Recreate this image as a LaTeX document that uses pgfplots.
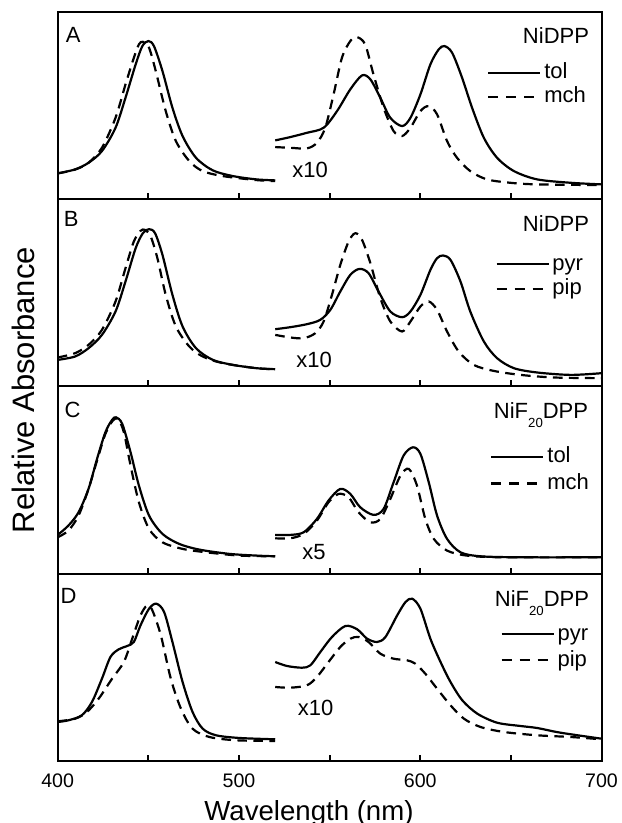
\documentclass[border=0pt]{standalone}
\usepackage{fontspec}
\setmainfont{Liberation Sans}
\usepackage{pgfplots}
\pgfplotsset{compat=1.18}
\newcommand\lbl{\fontsize{11}{13}\selectfont}
\newcommand\sub[1]{\raisebox{-4.7pt}{\fontsize{6.6}{7}\selectfont #1}}
\pgfplotsset{
 panel/.style={
  width=271.9pt, height=93.7pt, scale only axis, anchor=south west,
  xmin=400, xmax=700, ymin=0, ymax=187.4,
  xtick={400,450,...,700}, xticklabels={}, ytick=\empty,
  xtick pos=bottom, tick align=inside, major tick length=3pt,
  axis line style={line width=1pt},
  every tick/.style={line width=1pt, black},
  legend style={draw=none, fill=none, inner sep=0pt, outer sep=0pt,
    anchor=north west, font=\lbl, cells={anchor=base west},
    nodes={inner sep=0pt, text height=7.9pt, text depth=2pt},
    column sep=1.4pt},
  legend image code/.code={\path (0pt,0pt) (26pt,7.9pt);
    \draw[##1] (0pt,3pt) -- (26pt,3pt);},
 },
 sol/.style={black, line width=1.1pt, smooth, tension=0.5, forget plot},
 das/.style={black, line width=1.1pt, smooth, tension=0.5, dash pattern=on 4.8pt off 3.2pt, forget plot},
 limg/.style={black, line width=1.1pt},
 dimg/.style={black, line width=1.1pt, dash pattern=on 5pt off 4pt},
}
\begin{document}
\begin{tikzpicture}
\useasboundingbox (0,0) rectangle (310.5pt,411.5pt);
% ---------------- A
\begin{axis}[panel, at={(28.85pt,311.95pt)},
  legend style={at={(axis cs:637.0,137.1)}, row sep=1.45pt}]
\addplot[sol] coordinates {(400,25.7)(409.6,29.7)(417.0,36.3)(424.4,48)(431.9,71.3)(437.4,101.3)(443.0,134.7)(446.7,153)(450.0,158)(453.1,153)(457.8,128)(463.3,91.3)(468.9,63)(476.3,41.3)(485.6,28.7)(496.7,23)(509.6,19.7)(520,18.7)};
\addplot[das] coordinates {(400,25.7)(409.6,29.5)(417.0,36.3)(424.4,51.3)(431.9,81.3)(437.4,114.7)(442.0,141.3)(444.8,154.7)(447.0,157.3)(450.4,151.3)(454.1,128)(459.6,88)(465.2,58)(472.6,38)(480.0,28)(491.1,23)(509.6,19)(520,18)};
\addplot[sol] coordinates {(520.0,58.7)(528.3,62)(537.5,66.3)(546.7,71.3)(554.1,88)(561.4,109.7)(567.9,123.7)(572.5,119.7)(578.0,101.3)(583.5,81.3)(590.0,73)(594.6,81.3)(600.1,104.7)(605.6,134.7)(610.2,149.7)(613.4,153)(617.6,146.3)(623.1,121.3)(628.6,91.3)(635.1,61.3)(642.4,41.3)(651.7,28)(664.5,19.7)(683.0,16.3)(700,14.7)};
\addplot[das] coordinates {(520.0,52)(528.3,51.3)(537.5,50.7)(543.0,56.3)(547.6,71.3)(552.2,104.7)(556.8,141.3)(561.4,158)(565.0,162)(569.6,154.7)(574.2,124.7)(579.8,91.3)(585.3,68)(590.0,63)(594.6,71.3)(600.1,88)(604.7,93)(609.3,84.7)(614.8,58)(620.3,41.3)(627.6,28)(636.8,19.7)(649.7,16.3)(664.5,14.7)(700,14)};
\addlegendimage{limg}\addlegendentry{tol}
\addlegendimage{dimg}\addlegendentry{mch}
\node[anchor=base, font=\lbl] at (axis cs:408.5,156.8) {A};
\node[anchor=base east, font=\lbl] at (axis cs:697.0,155.1) {NiDPP};
\node[font=\lbl] at (axis cs:539.2,28.7) {x10};
\end{axis}
% ---------------- B
\begin{axis}[panel, at={(28.85pt,218.25pt)},
  legend style={at={(axis cs:641.5,133.1)}, row sep=1.75pt}]
\addplot[sol] coordinates {(400,26.6)(409.6,30)(417.0,38.3)(424.4,51.6)(431.9,75)(437.4,105)(443.0,138.3)(447.0,153.3)(450.4,157.3)(453.7,153.3)(457.8,131.6)(463.3,91.6)(468.9,60)(476.3,38.3)(485.6,26.6)(496.7,21.6)(509.6,18.3)(520,17.3)};
\addplot[das] coordinates {(400,29)(409.6,33.3)(417.0,41.6)(424.4,56.6)(431.9,85)(437.4,118.3)(442.0,145)(445.7,155.6)(448.1,156.6)(451.3,150)(455.0,128.3)(459.6,91.6)(465.2,60)(472.6,40)(480.0,30)(491.1,23.3)(509.6,18.3)(520,17.3)};
\addplot[sol] coordinates {(520.0,57.3)(528.3,59.3)(537.5,62.3)(544.8,66.6)(550.4,76.6)(555.9,95)(561.4,111.6)(566.5,117.6)(571.5,113.3)(577.0,95)(583.5,75)(590.0,69.3)(594.6,75)(600.1,91.6)(605.6,116.6)(609.3,128.3)(612.6,131)(616.7,126.6)(622.2,105)(627.6,75)(635.1,45)(642.4,28.3)(651.7,18.3)(664.5,14)(683.0,11.6)(700,13.3)};
\addplot[das] coordinates {(520.0,51.6)(528.3,49)(535.7,48.3)(542.1,53.3)(546.7,65)(551.3,91.6)(555.9,121.6)(560.5,145)(564.2,153.3)(567.9,146.6)(572.5,123.3)(578.0,88.3)(583.5,65)(590.0,55)(594.6,65)(600.1,80)(604.7,85)(609.3,76.6)(614.8,55)(621.2,35)(629.5,21.6)(640.5,15.6)(655.3,11.6)(673.7,9)(700,8.3)};
\addlegendimage{limg}\addlegendentry{pyr}
\addlegendimage{dimg}\addlegendentry{pip}
\node[anchor=base, font=\lbl] at (axis cs:407.5,159.7) {B};
\node[anchor=base east, font=\lbl] at (axis cs:697.0,155.4) {NiDPP};
\node[font=\lbl] at (axis cs:541.4,26.6) {x10};
\end{axis}
% ---------------- C
\begin{axis}[panel, at={(28.85pt,124.55pt)},
  legend style={at={(axis cs:638.7,128.1)}, row sep=2.95pt}]
\addplot[sol] coordinates {(400,39)(405.9,48.3)(411.5,61.6)(417.0,85)(421.7,115)(426.3,141.6)(430.0,154)(432.2,156.6)(435.6,150)(440.2,121.6)(444.8,88.3)(450.4,58.3)(457.8,40)(467.0,30)(478.1,24.3)(494.8,20)(509.6,18.3)(520,17.6)};
\addplot[das] coordinates {(400,36.6)(405.9,43.3)(411.5,58.3)(417.0,85)(421.7,113.3)(426.3,140)(430.4,153.3)(433.3,155)(436.5,141.6)(440.2,108.3)(444.8,71.6)(450.4,45)(457.8,31.6)(468.9,25)(481.9,21.6)(500.4,18.3)(520,17.6)};
\addplot[sol] coordinates {(520.0,39)(528.3,39)(535.7,41.6)(543.0,55)(549.4,73.3)(555.9,85)(561.4,80)(566.9,66.6)(574.2,59)(579.8,65)(585.3,91.6)(590.8,118.3)(596.0,126.6)(600.1,120)(604.7,91.6)(609.3,58.3)(614.8,35)(622.2,21.6)(633.3,17.6)(655.3,16.6)(700,16.6)};
\addplot[das] coordinates {(520.0,35.6)(528.3,35.6)(535.7,40)(543.0,53.3)(549.4,71.6)(555.0,80)(560.5,76.6)(566.0,61.6)(572.5,51.6)(578.0,55)(583.5,75)(589.1,98.3)(593.7,105)(598.2,88.3)(602.8,55)(607.5,35)(614.8,23.3)(625.8,18.3)(646.0,16.6)(700,16.6)};
\addlegendimage{limg}\addlegendentry{tol}
\addlegendimage{dimg}\addlegendentry{mch}
\node[anchor=base, font=\lbl] at (axis cs:408.2,156.4) {C};
\node[anchor=base east, font=\lbl] at (axis cs:696.5,155.4) {NiF\sub{20}DPP};
\node[font=\lbl] at (axis cs:541.4,21.6) {x5};
\end{axis}
% ---------------- D
\begin{axis}[panel, at={(28.85pt,30.85pt)},
  xticklabels={400,,500,,600,,700},
  xticklabel style={font=\fontsize{9.8}{11}\selectfont, yshift=-2.7pt},
  legend style={at={(axis cs:644.3,138.1)}, row sep=2.6pt}]
\addplot[sol] coordinates {(400,39.3)(405.9,41)(413.3,46)(418.9,59.3)(424.4,82.6)(429.1,104.3)(433.7,112)(438.3,115.3)(442.0,119.3)(445.7,136)(450.4,152.6)(454.4,157.6)(458.7,149.3)(463.3,119.3)(468.9,79.3)(474.4,49.3)(480.0,32.6)(487.4,26)(500.4,23.3)(520,22)};
\addplot[das] coordinates {(400,40)(409.6,42.6)(416.1,49.3)(422.6,62.6)(430.0,82.6)(436.5,99.3)(441.1,122.6)(445.7,146)(449.4,156)(452.2,151)(456.9,126)(462.4,82.6)(468.0,52.6)(474.4,32.6)(483.7,24.3)(498.5,21)(520,20.3)};
\addplot[sol] coordinates {(520.0,99.3)(526.5,95.3)(534.8,93.6)(539.4,96)(544.9,109.3)(551.3,124.3)(558.7,135.3)(565.2,132)(570.7,122.6)(576.2,119.3)(580.8,124.3)(587.3,146)(591.9,159.3)(595.6,162.6)(600.1,152.6)(605.6,122.6)(611.2,99.3)(616.7,79.3)(623.2,61)(631.5,47.6)(642.4,38.6)(655.3,35.3)(664.5,33.3)(677.4,28.6)(700,22.6)};
\addplot[das] coordinates {(520.0,74.3)(528.3,73.6)(537.5,76)(543.0,84.3)(549.4,99.3)(555.9,114.3)(561.4,122.6)(566.0,124.3)(571.5,119.3)(578.0,107.6)(585.3,102.6)(592.7,101)(597.3,97.6)(602.8,87.6)(609.3,72.6)(616.7,56)(624.1,42.6)(633.3,34.3)(646.2,29.3)(664.5,26)(683.0,24.3)(700,22)};
\addlegendimage{limg}\addlegendentry{pyr}
\addlegendimage{dimg}\addlegendentry{pip}
\node[anchor=base, font=\lbl] at (axis cs:406.0,157.4) {D};
\node[anchor=base east, font=\lbl] at (axis cs:697.0,154.7) {NiF\sub{20}DPP};
\node[font=\lbl] at (axis cs:542.3,53.3) {x10};
\end{axis}
\node[rotate=90, font=\fontsize{15.5}{17}\selectfont] at (11.5pt,216.5pt) {Relative Absorbance};
\node[anchor=base, font=\fontsize{13.8}{16}\selectfont] at (154.5pt,1.5pt) {Wavelength (nm)};
\end{tikzpicture}
\end{document}
